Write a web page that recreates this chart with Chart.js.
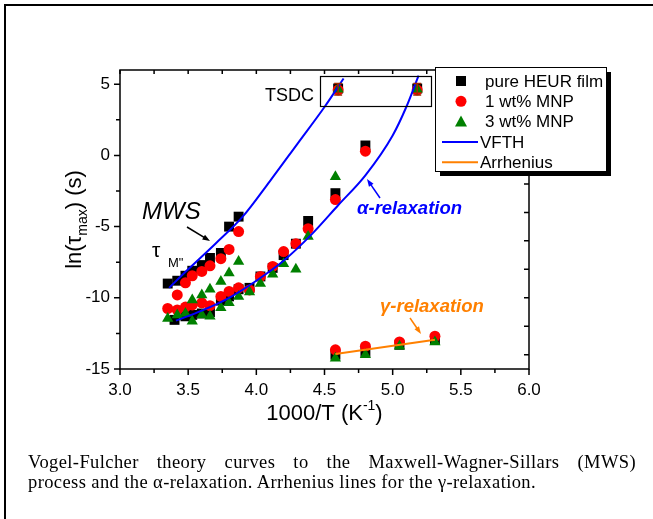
<!DOCTYPE html>
<html>
<head>
<meta charset="utf-8">
<script src="https://cdn.jsdelivr.net/npm/chart.js@4.4.0/dist/chart.umd.min.js"></script>
<style>
  html, body { margin: 0; padding: 0; background: #fff; }
  #wrap { position: relative; width: 653px; height: 519px; overflow: hidden; }
  #frame { position: absolute; left: 4px; top: 4px; width: 700px; height: 600px; border-left: 2px solid #000; border-top: 2px solid #000; }
  #chart { position: absolute; left: 0; top: 0; }
  #caption { position: absolute; left: 28px; top: 452px; width: 608px; font-family: "Liberation Serif", "Times New Roman", serif; font-size: 18.5px; letter-spacing: 0.4px; line-height: 20px; color: #000; }
  #caption .l1 { text-align: justify; text-align-last: justify; }
</style>
</head>
<body>
<div id="wrap">
  <div id="frame"></div>
  <canvas id="chart" width="653" height="519"></canvas>
  <div id="caption">
    <div class="l1">Vogel-Fulcher theory curves to the Maxwell-Wagner-Sillars (MWS)</div>
    <div>process and the α-relaxation. Arrhenius lines for the γ-relaxation.</div>
  </div>
</div>
<script>
// pure HEUR film (black squares)
const heurX = [3.35, 3.42, 3.48, 3.53, 3.60, 3.66, 3.74, 3.80, 3.87,
  3.40, 3.48, 3.53, 3.60, 3.66, 3.74, 3.80, 3.87, 3.95, 4.03, 4.12, 4.20, 4.29, 4.38, 4.58, 4.80,
  4.60, 5.18,
  4.58, 4.80, 5.05, 5.31];
const heurY = [-9.0, -8.8, -8.45, -8.1, -7.7, -7.2, -6.85, -5.0, -4.3,
  -11.55, -11.3, -11.2, -11.1, -11.0, -10.2, -9.9, -9.4, -9.3, -8.5, -7.9, -7.0, -6.2, -4.6, -2.65, 0.7,
  4.7, 4.7,
  -14.0, -13.8, -13.3, -12.9];

// 1 wt% MNP (red circles)
const mnp1X = [3.42, 3.48, 3.53, 3.60, 3.66, 3.74, 3.80, 3.87,
  3.35, 3.42, 3.48, 3.53, 3.60, 3.66, 3.74, 3.80, 3.87, 3.95, 4.03, 4.12, 4.20, 4.29, 4.38, 4.58, 4.80,
  4.60, 5.18,
  4.58, 4.80, 5.05, 5.31];
const mnp1Y = [-9.8, -8.95, -8.45, -8.15, -7.75, -7.25, -6.6, -5.35,
  -10.75, -10.85, -10.65, -10.5, -10.35, -10.55, -9.9, -9.55, -9.3, -9.45, -8.5, -7.8, -6.75, -6.2, -5.15, -3.1, 0.3,
  4.6, 4.6,
  -13.65, -13.4, -13.1, -12.7];

// 3 wt% MNP (green triangles)
const mnp3X = [3.53, 3.60, 3.66, 3.74, 3.80, 3.87,
  3.35, 3.42, 3.48, 3.53, 3.60, 3.66, 3.74, 3.80, 3.87, 3.95, 4.03, 4.12, 4.20, 4.29, 4.38, 4.58,
  4.60, 5.18,
  4.58, 4.80, 5.05, 5.31];
const mnp3Y = [-10.15, -9.8, -9.4, -8.85, -8.25, -7.45,
  -11.45, -11.2, -11.1, -11.65, -11.2, -11.3, -10.7, -10.35, -9.9, -9.6, -9.0, -8.35, -7.6, -8.0, -5.7, -1.5,
  4.65, 4.65,
  -14.25, -14.0, -13.4, -13.1];

// TSDC points with error bars
const tsdcX = [4.60, 5.18];
const tsdcY = [4.65, 4.65];
const tsdcErr = [0.4, 0.4];

// VFTH fit curves
const mwsFitX = [3.36, 3.5, 3.7, 3.9, 4.1, 4.3, 4.5, 4.64];
const mwsFitY = [-9.3, -8.0, -6.2, -4.3, -1.8, 0.8, 3.4, 5.4];
const alphaFitX = [3.41, 3.6, 3.8, 4.0, 4.2, 4.4, 4.6, 4.8, 5.0, 5.1, 5.19];
const alphaFitY = [-11.6, -10.9, -10.0, -8.8, -7.4, -5.6, -3.5, -1.4, 1.4, 3.4, 5.6];

// Arrhenius line for the gamma relaxation
const arrX = [4.58, 5.31];
const arrY = [-13.95, -12.95];

const toPts = (xs, ys) => xs.map((x, i) => ({ x, y: ys[i] }));

const legendItems = [
  { text: "pure HEUR film", kind: "rect", color: "#000000" },
  { text: "1 wt% MNP", kind: "circle", color: "#ff0000" },
  { text: "3 wt% MNP", kind: "triangle", color: "#008000" },
  { text: "VFTH", kind: "line", color: "#0000ff" },
  { text: "Arrhenius", kind: "line", color: "#ff8000" },
];

const FONT = "'Liberation Sans', Arial, sans-serif";

function arrow(ctx, x1, y1, x2, y2, color) {
  const ang = Math.atan2(y2 - y1, x2 - x1);
  ctx.strokeStyle = color;
  ctx.fillStyle = color;
  ctx.lineWidth = 1.5;
  ctx.beginPath();
  ctx.moveTo(x1, y1);
  ctx.lineTo(x2 - 4 * Math.cos(ang), y2 - 4 * Math.sin(ang));
  ctx.stroke();
  ctx.beginPath();
  ctx.moveTo(x2, y2);
  ctx.lineTo(x2 - 8 * Math.cos(ang - 0.35), y2 - 8 * Math.sin(ang - 0.35));
  ctx.lineTo(x2 - 8 * Math.cos(ang + 0.35), y2 - 8 * Math.sin(ang + 0.35));
  ctx.closePath();
  ctx.fill();
}

const decor = {
  id: "decor",
  afterDraw(chart) {
    const { ctx, chartArea: a, scales: { x, y } } = chart;
    ctx.save();

    // frame + ticks
    ctx.strokeStyle = "#000";
    ctx.lineWidth = 1.5;
    ctx.strokeRect(a.left, a.top, a.right - a.left, a.bottom - a.top);
    ctx.beginPath();
    for (let v = 3; v <= 6.001; v += 0.25) {
      const px = x.getPixelForValue(v);
      const major = Math.abs(v * 2 - Math.round(v * 2)) < 1e-6;
      ctx.moveTo(px, a.bottom);
      ctx.lineTo(px, a.bottom + (major ? 6 : 4));
      ctx.moveTo(px, a.top);
      ctx.lineTo(px, a.top + 4);
    }
    for (let v = -15; v <= 6; v += 2.5) {
      const py = y.getPixelForValue(v);
      const major = v % 5 === 0;
      ctx.moveTo(a.left, py);
      ctx.lineTo(a.left - (major ? 6 : 4), py);
    }
    for (let v = -14; v <= 6; v += 2) {
      const py = y.getPixelForValue(v);
      ctx.moveTo(a.right, py);
      ctx.lineTo(a.right - 5, py);
    }
    ctx.stroke();

    // TSDC error bars
    ctx.strokeStyle = "#a02800";
    ctx.lineWidth = 1.5;
    ctx.beginPath();
    tsdcX.forEach((vx, i) => {
      const px = x.getPixelForValue(vx);
      const t = y.getPixelForValue(tsdcY[i] + tsdcErr[i]);
      const b = y.getPixelForValue(tsdcY[i] - tsdcErr[i]);
      ctx.moveTo(px, t); ctx.lineTo(px, b);
      ctx.moveTo(px - 4, t); ctx.lineTo(px + 4, t);
      ctx.moveTo(px - 4, b); ctx.lineTo(px + 4, b);
    });
    ctx.stroke();

    // axis titles
    ctx.fillStyle = "#000";
    ctx.textBaseline = "alphabetic";
    const big = "22px " + FONT;
    const small = "14px " + FONT;
    const t1 = "1000/T (K", t2 = ")";
    ctx.font = small;
    const sw = ctx.measureText("-1").width;
    ctx.font = big;
    const w1 = ctx.measureText(t1).width, w2 = ctx.measureText(t2).width;
    const sx = (a.left + a.right) / 2 - (w1 + sw + w2) / 2;
    const by = 420;
    ctx.fillText(t1, sx, by);
    ctx.font = small;
    ctx.fillText("-1", sx + w1, by - 10);
    ctx.font = big;
    ctx.fillText(t2, sx + w1 + sw, by);

    ctx.save();
    ctx.translate(81, (a.top + a.bottom) / 2);
    ctx.rotate(-Math.PI / 2);
    const y1 = "ln(\u03c4", y2 = ") (s)";
    ctx.font = small;
    const mw = ctx.measureText("max").width;
    ctx.font = big;
    const yw1 = ctx.measureText(y1).width, yw2 = ctx.measureText(y2).width;
    const ty = -(yw1 + mw + yw2) / 2;
    ctx.fillText(y1, ty, 0);
    ctx.font = small;
    ctx.fillText("max", ty + yw1, 6);
    ctx.font = big;
    ctx.fillText(y2, ty + yw1 + mw, 0);
    ctx.restore();

    // annotations
    ctx.font = "italic 24px " + FONT;
    ctx.fillText("MWS", 142, 219);
    arrow(ctx, 187, 227, 210, 241, "#000");
    ctx.font = "21px " + FONT;
    ctx.fillText("\u03c4", 152, 257);
    ctx.font = "13px " + FONT;
    ctx.fillText("M\"", 168, 267);

    ctx.font = "18px " + FONT;
    ctx.fillText("TSDC", 265, 101);
    ctx.strokeStyle = "#000";
    ctx.lineWidth = 1.2;
    ctx.strokeRect(320.5, 76.5, 111, 30);

    ctx.fillStyle = "#0000ff";
    ctx.font = "italic bold 18.5px " + FONT;
    ctx.fillText("\u03b1-relaxation", 357, 214);
    arrow(ctx, 380, 198, 367, 179, "#0000ff");

    ctx.fillStyle = "#ff8000";
    ctx.fillText("\u03b3-relaxation", 380, 312);
    arrow(ctx, 410, 318, 421, 334, "#ff8000");

    // legend box with shadow
    const lx = 435, ly = 67, lw = 171, lh = 104;
    ctx.fillStyle = "#000";
    ctx.fillRect(lx + 5, ly + 5, lw, lh);
    ctx.fillStyle = "#fff";
    ctx.fillRect(lx, ly, lw, lh);
    ctx.strokeStyle = "#000";
    ctx.lineWidth = 1;
    ctx.strokeRect(lx + 0.5, ly + 0.5, lw, lh);
    ctx.font = "17px " + FONT;
    ctx.textBaseline = "middle";
    legendItems.forEach((it, i) => {
      const ry = 81 + i * 20.3;
      ctx.fillStyle = it.color;
      ctx.strokeStyle = it.color;
      if (it.kind === "rect") {
        ctx.fillRect(456, ry - 5, 10, 10);
      } else if (it.kind === "circle") {
        ctx.beginPath(); ctx.arc(461, ry, 5.5, 0, Math.PI * 2); ctx.fill();
      } else if (it.kind === "triangle") {
        ctx.beginPath();
        ctx.moveTo(461, ry - 6); ctx.lineTo(467, ry + 5); ctx.lineTo(455, ry + 5);
        ctx.closePath(); ctx.fill();
      } else {
        ctx.lineWidth = 2;
        ctx.beginPath(); ctx.moveTo(442, ry); ctx.lineTo(478, ry); ctx.stroke();
      }
      ctx.fillStyle = "#000";
      ctx.fillText(it.text, it.kind === "line" ? 480 : 485, ry + 1);
    });
    ctx.restore();
  },
};

new Chart(document.getElementById("chart"), {
  type: "scatter",
  data: {
    datasets: [
      { label: "VFTH MWS", data: toPts(mwsFitX, mwsFitY), showLine: true, borderColor: "#0000ff",
        borderWidth: 2, pointRadius: 0, cubicInterpolationMode: "monotone", order: 0 },
      { label: "VFTH alpha", data: toPts(alphaFitX, alphaFitY), showLine: true, borderColor: "#0000ff",
        borderWidth: 2, pointRadius: 0, cubicInterpolationMode: "monotone", order: 0 },
      { label: "Arrhenius", data: toPts(arrX, arrY), showLine: true, borderColor: "#ff8000",
        borderWidth: 2, pointRadius: 0, order: 0 },
      { label: "pure HEUR film", data: toPts(heurX, heurY), pointStyle: "rect", pointRadius: 7,
        backgroundColor: "#000", borderColor: "#000", borderWidth: 0, order: 3 },
      { label: "1 wt% MNP", data: toPts(mnp1X, mnp1Y), pointStyle: "circle", pointRadius: 5.5,
        backgroundColor: "#ff0000", borderColor: "#ff0000", borderWidth: 0, order: 2 },
      { label: "3 wt% MNP", data: toPts(mnp3X, mnp3Y), pointStyle: "triangle", pointRadius: 6.5,
        backgroundColor: "#008000", borderColor: "#008000", borderWidth: 0, order: 1 },
    ],
  },
  options: {
    responsive: false,
    animation: false,
    events: [],
    layout: { padding: { top: 70, right: 124, left: 0, bottom: 0 } },
    plugins: { legend: { display: false }, tooltip: { enabled: false } },
    scales: {
      x: {
        type: "linear", min: 3, max: 6,
        grid: { display: false, drawTicks: false },
        border: { display: false },
        ticks: { stepSize: 0.5, padding: 11, color: "#000", maxRotation: 0,
          font: { family: FONT, size: 17 },
          callback: (v) => v.toFixed(1) },
        afterFit: (s) => { s.height = 150; },
      },
      y: {
        type: "linear", min: -15, max: 6,
        grid: { display: false, drawTicks: false },
        border: { display: false },
        ticks: { stepSize: 5, padding: 10, color: "#000", includeBounds: false,
          font: { family: FONT, size: 17 } },
        afterFit: (s) => { s.width = 120; },
      },
    },
  },
  plugins: [decor],
});
</script>
</body>
</html>
